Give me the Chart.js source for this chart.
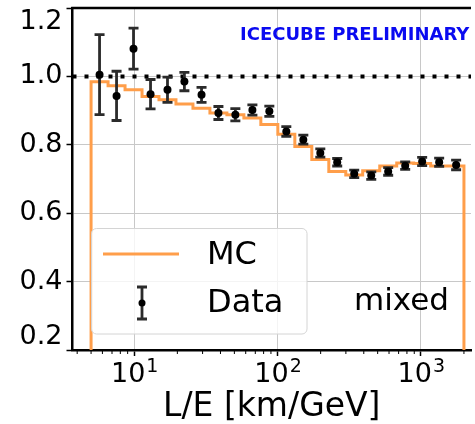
<!DOCTYPE html>
<html>
<head>
<meta charset="utf-8">
<script src="https://cdn.jsdelivr.net/npm/chart.js@4.4.1/dist/chart.umd.min.js"></script>
<style>
  html, body { margin: 0; padding: 0; background: #fff; overflow: hidden; }
</style>
</head>
<body>
<canvas id="chart" width="475" height="424"></canvas>
<script>
// histogram bin edges (L/E, km/GeV) and the MC ratio per bin
const binEdges = [5.0, 6.57, 8.63, 11.34, 14.89, 19.56, 25.7, 33.76, 44.35, 58.26, 76.5,
  100.5, 132.1, 173.5, 228, 299.5, 393, 517, 679, 892, 1172, 1540, 2000];
const mcRatio = [0.989, 0.984, 0.973, 0.961, 0.941, 0.932, 0.919, 0.907, 0.893, 0.888, 0.878,
  0.859, 0.831, 0.795, 0.757, 0.722, 0.712, 0.724, 0.738, 0.747, 0.745, 0.738];

// data points (bin centres) with errors
const dataX = [5.73, 7.53, 9.89, 13.0, 17.07, 22.4, 29.5, 38.7, 50.8, 66.8, 87.7,
  115.2, 151.4, 198.9, 261, 343, 451, 592, 778, 1022, 1343, 1764];
const dataRatio = [1.005, 0.943, 1.081, 0.948, 0.961, 0.985, 0.946, 0.893, 0.888, 0.902, 0.898,
  0.839, 0.815, 0.776, 0.749, 0.715, 0.710, 0.722, 0.739, 0.751, 0.749, 0.741];
const dataErr = [0.117, 0.072, 0.060, 0.043, 0.037, 0.027, 0.022, 0.019, 0.018, 0.015, 0.015,
  0.014, 0.013, 0.012, 0.011, 0.011, 0.011, 0.011, 0.011, 0.012, 0.012, 0.014];

const refLevel = 1.0;
const xMin = 3.71, xMax = 2240;
const yMin = 0.2, yMax = 1.2;
const yTicks = [0.2, 0.4, 0.6, 0.8, 1.0, 1.2];
const xTicks = [10, 100, 1000];
const xTickBase = '10';
const xTickExp = ['1', '2', '3'];
const xMinorTicks = [4, 5, 6, 7, 8, 9, 20, 30, 40, 50, 60, 70, 80, 90,
  200, 300, 400, 500, 600, 700, 800, 900, 2000];

const MC_COLOR = '#ff9e4a';
const ERR_COLOR = '#2b2b2b';
const FONT = 'DejaVu Sans';

// step outline: drop to 0 at both ends like a matplotlib step hist
const mcPoints = [{ x: binEdges[0], y: 0 }]
  .concat(binEdges.map((e, i) => ({ x: e, y: mcRatio[Math.min(i, mcRatio.length - 1)] })))
  .concat([{ x: binEdges[binEdges.length - 1], y: 0 }]);

function drawErrBar(ctx, px, top, bot, cap) {
  ctx.beginPath();
  ctx.moveTo(px, top); ctx.lineTo(px, bot);
  ctx.moveTo(px - cap, top); ctx.lineTo(px + cap, top);
  ctx.moveTo(px - cap, bot); ctx.lineTo(px + cap, bot);
  ctx.stroke();
}

const decor = {
  id: 'decor',
  beforeDatasetDraw(chart, args) {
    if (args.index !== 0) return;
    const { ctx, chartArea: a, scales: { x, y } } = chart;
    ctx.save();
    ctx.beginPath();
    ctx.rect(a.left, a.top, a.right - a.left, a.bottom - a.top);
    ctx.clip();
    ctx.strokeStyle = ERR_COLOR;
    ctx.lineWidth = 2.8;
    dataX.forEach((v, i) => {
      drawErrBar(ctx, x.getPixelForValue(v),
        y.getPixelForValue(dataRatio[i] + dataErr[i]),
        y.getPixelForValue(dataRatio[i] - dataErr[i]), 5);
    });
    ctx.restore();
  },
  afterDraw(chart) {
    const { ctx, chartArea: a, scales: { x } } = chart;
    ctx.save();
    // top spine
    ctx.strokeStyle = '#000';
    ctx.lineWidth = 2.5;
    ctx.beginPath();
    ctx.moveTo(a.left - 1.25, a.top); ctx.lineTo(a.right, a.top);
    ctx.stroke();
    // minor log ticks
    ctx.lineWidth = 1;
    xMinorTicks.forEach(v => {
      if (v < xMin || v > xMax) return;
      const px = x.getPixelForValue(v);
      ctx.beginPath();
      ctx.moveTo(px, a.bottom); ctx.lineTo(px, a.bottom + 4);
      ctx.stroke();
    });
    // x tick labels as 10^n with a raised exponent
    ctx.fillStyle = '#000';
    ctx.textBaseline = 'alphabetic';
    xTicks.forEach((v, i) => {
      const px = x.getPixelForValue(v);
      ctx.font = '27px "' + FONT + '"';
      const wb = ctx.measureText(xTickBase).width;
      ctx.font = '19px "' + FONT + '"';
      const we = ctx.measureText(xTickExp[i]).width;
      const left = px - (wb + we) / 2;
      ctx.font = '27px "' + FONT + '"';
      ctx.fillText(xTickBase, left, a.bottom + 32);
      ctx.font = '19px "' + FONT + '"';
      ctx.fillText(xTickExp[i], left + wb + 1, a.bottom + 22);
    });
    // labels
    ctx.fillStyle = '#0a0af0';
    ctx.font = 'bold 18px "' + FONT + '"';
    ctx.fillText('ICECUBE PRELIMINARY', 240, 40);
    ctx.fillStyle = '#000';
    ctx.font = '31px "' + FONT + '"';
    ctx.fillText('mixed', 354, 310);

    // legend
    ctx.fillStyle = 'rgba(255,255,255,0.8)';
    ctx.strokeStyle = '#d4d4d4';
    ctx.lineWidth = 1;
    ctx.beginPath();
    ctx.roundRect(91.5, 228.5, 215.5, 105.5, 5);
    ctx.fill();
    ctx.stroke();
    ctx.strokeStyle = MC_COLOR;
    ctx.lineWidth = 3;
    ctx.beginPath();
    ctx.moveTo(103, 254); ctx.lineTo(179, 254);
    ctx.stroke();
    ctx.strokeStyle = ERR_COLOR;
    ctx.lineWidth = 2.8;
    drawErrBar(ctx, 142, 287, 319, 5);
    ctx.fillStyle = '#000';
    ctx.beginPath();
    ctx.arc(142, 303, 3.5, 0, Math.PI * 2);
    ctx.fill();
    ctx.font = '32px "' + FONT + '"';
    ctx.textBaseline = 'middle';
    ctx.fillText('MC', 207, 256);
    ctx.fillText('Data', 207, 304);
    ctx.restore();
  }
};

new Chart(document.getElementById('chart'), {
  type: 'scatter',
  data: {
    datasets: [
      {
        label: 'Data',
        data: dataX.map((v, i) => ({ x: v, y: dataRatio[i] })),
        pointRadius: 4,
        pointBackgroundColor: '#000',
        pointBorderWidth: 0,
        showLine: false
      },
      {
        label: 'ref',
        type: 'line',
        data: [{ x: xMin, y: refLevel }, { x: xMax, y: refLevel }],
        borderColor: '#000',
        borderWidth: 4,
        borderDash: [4, 8],
        pointRadius: 0,
        fill: false
      },
      {
        label: 'MC',
        type: 'line',
        data: mcPoints,
        stepped: 'after',
        borderColor: MC_COLOR,
        borderWidth: 3,
        pointRadius: 0,
        fill: false
      }
    ]
  },
  options: {
    responsive: false,
    animation: false,
    devicePixelRatio: 1,
    layout: { padding: { top: 8, left: 0, right: 0, bottom: 0 } },
    plugins: { legend: { display: false }, tooltip: { enabled: false } },
    scales: {
      x: {
        type: 'logarithmic',
        min: xMin,
        max: xMax,
        afterBuildTicks: s => { s.ticks = xTicks.map(v => ({ value: v })); },
        afterFit: s => { s.height = 74; s.paddingLeft = 0; s.paddingRight = 0; },
        ticks: {
          autoSkip: false,
          maxRotation: 0,
          // labels are drawn by the decor plugin (10 with a superscript)
          callback: () => ''
        },
        grid: { color: '#c8c8c8', lineWidth: 1, tickColor: '#000', tickLength: 6, tickWidth: 1.5 },
        border: { color: '#000', width: 2.5 },
        title: {
          display: true,
          text: 'L/E [km/GeV]',
          color: '#000',
          font: { family: FONT, size: 33, lineHeight: 1 },
          padding: { top: 0, bottom: 0 }
        }
      },
      y: {
        min: yMin,
        max: yMax,
        afterBuildTicks: s => { s.ticks = yTicks.map(v => ({ value: v })); },
        afterFit: s => { s.width = 72.5; s.paddingTop = 0; s.paddingBottom = 0; },
        ticks: {
          padding: 4,
          color: '#000',
          font: { family: FONT, size: 27, lineHeight: 1 },
          // end labels sit half a line inside the axes, as in the original
          callback: v => {
            const s = v.toFixed(1);
            if (Math.abs(v - yMax) < 1e-9) return ['', s];
            if (Math.abs(v - yMin) < 1e-9) return [s, ''];
            return s;
          }
        },
        grid: { color: '#c8c8c8', lineWidth: 1, tickColor: '#000', tickLength: 6, tickWidth: 1.5 },
        border: { color: '#000', width: 2.5 }
      }
    }
  },
  plugins: [decor]
});
</script>
</body>
</html>
